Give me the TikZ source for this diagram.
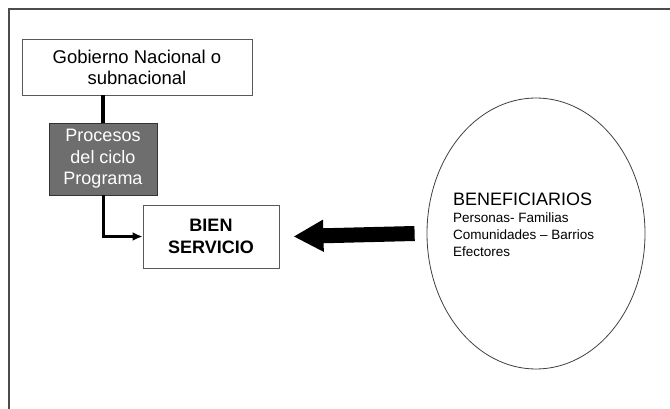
\documentclass[tikz,border=0pt]{standalone}
\usepackage{fontspec}
\setmainfont{Liberation Sans}
\usepackage{tikz}
\usetikzlibrary{arrows.meta,shapes.geometric}
\definecolor{procgris}{RGB}{110,110,110}

\begin{document}
\begin{tikzpicture}[x=1pt, y=-1pt,
	caja/.style={draw=black!65, line width=0.9pt, inner sep=0pt, align=center},
	enlace/.style={line width=3pt}]
	\useasboundingbox (0,0) rectangle (670,409);
	\draw [black!70, line width=1.3pt] (9,409) -- (9,9) -- (670,9);
	\node [caja, minimum width=230pt, minimum height=56pt, font=\fontsize{18.5}{21}\selectfont] (Gob) at (137, 67) {Gobierno Nacional o\\subnacional};
	\node [caja, fill=procgris, draw=black!80, text=white, minimum width=108pt, minimum height=72pt, font=\fontsize{18}{21.5}\selectfont] (Proc) at (103, 159) {Procesos\\del ciclo\\Programa};
	\node [caja, minimum width=136pt, minimum height=63pt, font=\bfseries\fontsize{18}{22}\selectfont] (Bien) at (211, 236.5) {BIEN\\SERVICIO};
	\node [ellipse, draw=black!75, line width=0.8pt, minimum width=218pt, minimum height=271pt] (Ben) at (536, 233.5) {};
	\node [anchor=north west, align=left, inner sep=0pt, font=\fontsize{13.5}{17}\selectfont] (BenTxt) at (453, 193) {{\fontsize{18}{20}\selectfont BENEFICIARIOS}\\Personas- Familias\\Comunidades – Barrios\\Efectores};
	\draw [enlace, line width=4pt] (Proc.north |- Gob.south) -- (Proc.north);
	\draw [enlace, -{Latex[length=10pt,width=9pt]}] (Proc.south) |- (Bien.west);
	\draw [line width=15pt, -{Triangle[length=30pt,width=30pt]}] ([xshift=-12pt]Ben.west) -- ([xshift=14pt]Bien.east);
\end{tikzpicture}
\end{document}
